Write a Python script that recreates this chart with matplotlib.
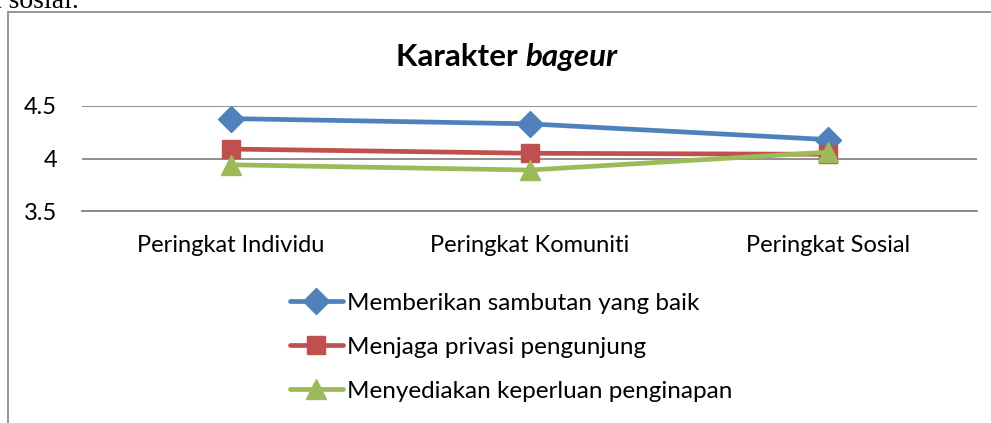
import matplotlib
matplotlib.use("Agg")
import matplotlib.pyplot as plt
from matplotlib.patches import Rectangle

categories = ["Peringkat Individu", "Peringkat Komuniti", "Peringkat Sosial"]
sambutan = [4.38, 4.33, 4.18]
privasi = [4.09, 4.05, 4.04]
penginapan = [3.94, 3.89, 4.06]
labels = ["Memberikan sambutan yang baik", "Menjaga privasi pengunjung",
          "Menyediakan keperluan penginapan"]
yticks = [3.5, 4, 4.5]

plt.rcParams['font.family'] = ['Lato', 'DejaVu Sans']

fig = plt.figure(figsize=(9.91, 4.23), dpi=100)
fig.patch.set_facecolor("white")

# chart frame (cut by the page edges)
fig.patches.append(Rectangle((8 / 991, -0.1), 1.1, 1 - 12 / 423 + 0.1,
                             transform=fig.transFigure, fill=False,
                             edgecolor="#8c8c8c", lw=1.3))
fig.text(-0.006, 1 - 8 / 423, "t sosial.", family="Liberation Serif",
         fontsize=20, va="baseline", ha="left")

ax = fig.add_axes([82 / 991, 1 - 211 / 423, 895 / 991, 105 / 423])
x = range(len(categories))
styles = [(sambutan, "#4F81BD", "D", 13), (privasi, "#C0504D", "s", 13.5),
          (penginapan, "#9BBB59", "^", 14)]
lines = []
for (vals, col, mk, ms), lab in zip(styles, labels):
    ln, = ax.plot(x, vals, color=col, marker=mk, ms=ms, lw=3.4, label=lab,
                  solid_capstyle="round", clip_on=False)
    lines.append(ln)

ax.set_xlim(-0.5, 2.5)
ax.set_ylim(3.5, 4.5)
ax.set_yticks(yticks)
ax.set_yticklabels(["3.5", "4", "4.5"])
ax.set_xticks(list(x))
ax.set_xticklabels(categories)
ax.yaxis.grid(True, color="#868686", lw=1.3)
ax.set_axisbelow(True)
for s in ["top", "right", "left"]:
    ax.spines[s].set_visible(False)
ax.spines["bottom"].set_color("#868686")
ax.spines["bottom"].set_linewidth(1.3)
ax.tick_params(axis="both", length=0, labelsize=17)
ax.tick_params(axis="y", pad=18)
ax.tick_params(axis="x", pad=17)

# title: "Karakter" bold, "bageur" bold italic
t1 = fig.text(507 / 991, 1 - 57 / 423, "Karakter ", ha="right", va="center",
              fontsize=22.5, fontweight="bold")
fig.canvas.draw()
bb = t1.get_window_extent()
full_w = bb.width
t2 = fig.text(0, 1 - 57 / 423, "bageur", ha="left", va="center",
              fontsize=22.5, fontweight="bold", style="italic")
w2 = t2.get_window_extent(renderer=fig.canvas.get_renderer()).width
left = 507 - (full_w + w2) / 2
t1.set_position(((left + full_w) / 991, 1 - 57 / 423))
t2.set_position(((left + full_w) / 991, 1 - 57 / 423))

fig.legend(handles=lines, loc="upper left", bbox_to_anchor=(280 / 991, 1 - 283 / 423),
           frameon=False, fontsize=17.5, handlelength=2.2, handletextpad=0.15,
           labelspacing=0.95, borderaxespad=0)

fig.savefig("out.png", dpi=100)
